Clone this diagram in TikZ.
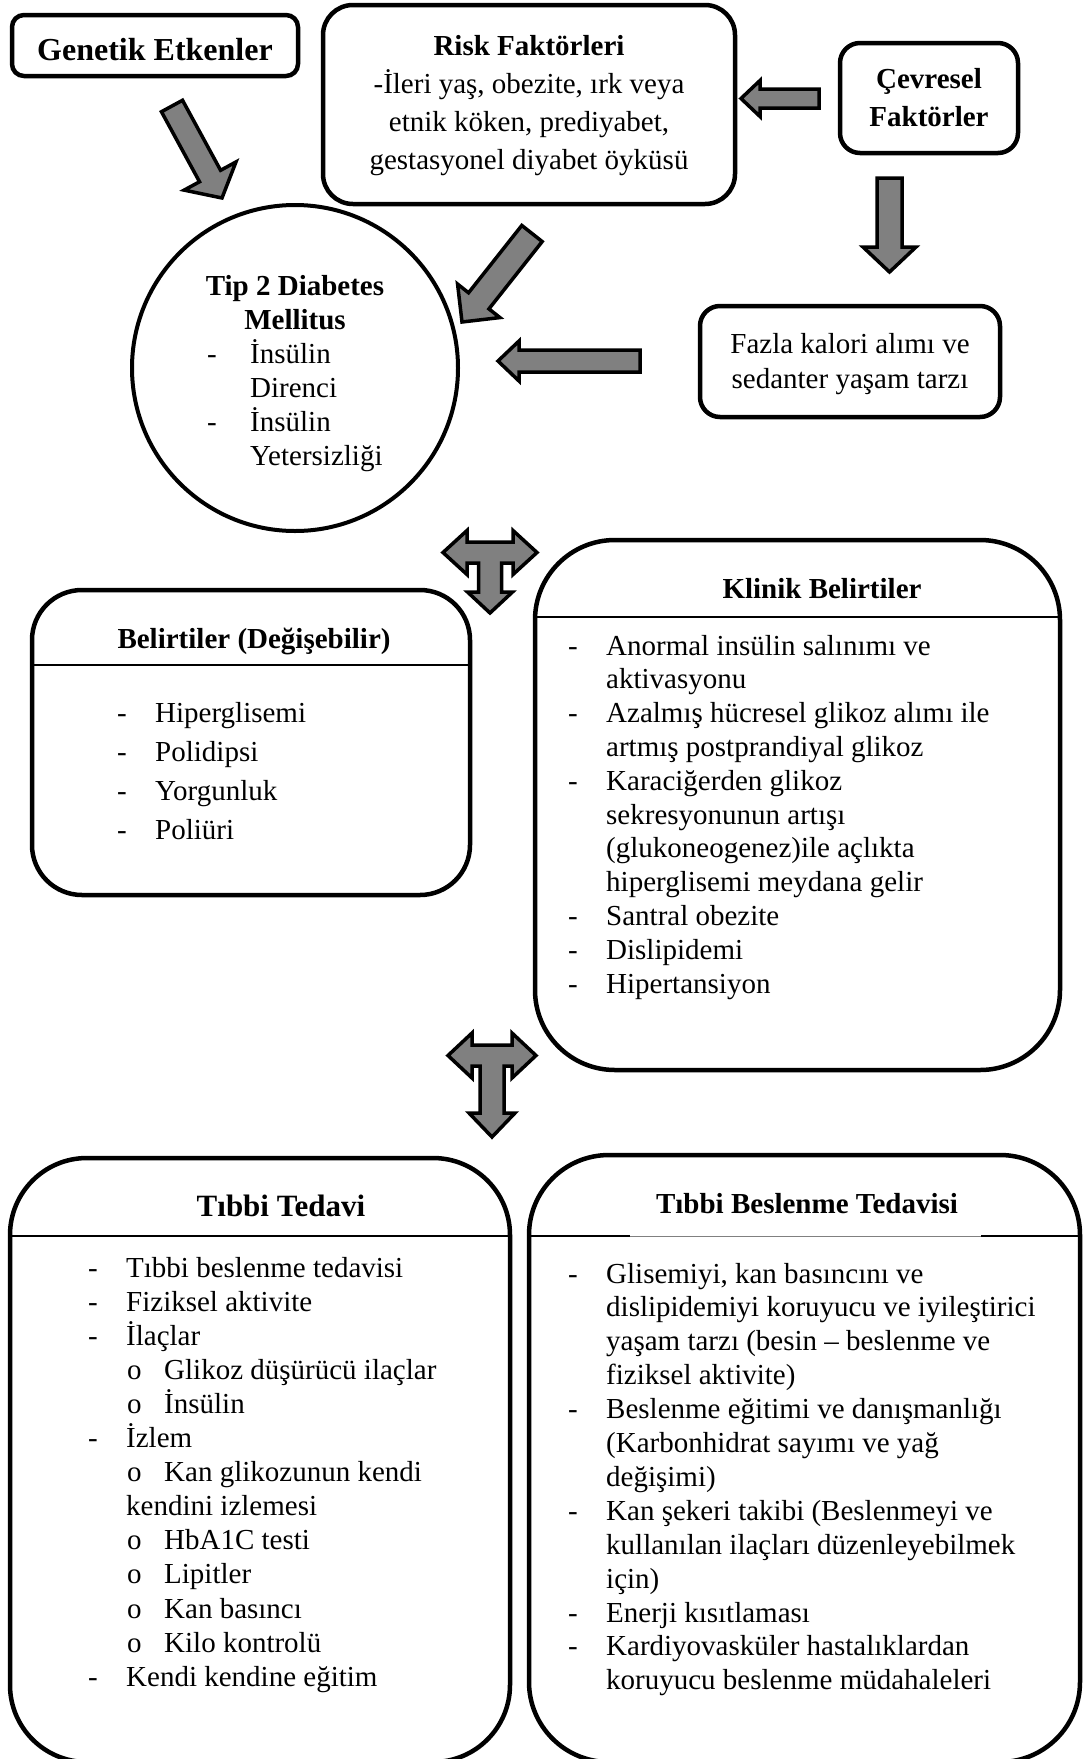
\documentclass[tikz,border=0pt]{standalone}
\usepackage{fontspec}
\setmainfont{Liberation Serif}
\usetikzlibrary{calc}
\definecolor{agray}{RGB}{128,128,128}
\newcommand{\fsBody}{\fontsize{29}{34}\selectfont}
\newcommand{\fsTitle}{\fontsize{29}{34}\selectfont\bfseries}
\newcommand{\blockarr}[5]{%
  \path ($(#2)!#5!(#1)$) coordinate (hb-#1);
  \draw[blk] ($(#1)!#3!90:(#2)$) -- ($(hb-#1)!#3!90:(#2)$) -- ($(hb-#1)!#4!90:(#2)$) -- (#2) -- ($(hb-#1)!#4!-90:(#2)$) -- ($(hb-#1)!#3!-90:(#2)$) -- ($(#1)!#3!-90:(#2)$) -- cycle;}
\begin{document}
\begin{tikzpicture}[x=1pt,y=-1pt,
  box/.style={draw, line width=4.5pt, inner sep=0pt},
  blk/.style={fill=agray, draw=black, line width=3.5pt, line join=miter},
  sep/.style={line width=2pt},
  txt/.style={anchor=base west, inner sep=0pt, font=\fsBody},
  ctr/.style={anchor=base, inner sep=0pt, font=\fsBody},
  ttl/.style={anchor=base, inner sep=0pt, font=\fsTitle}]
\useasboundingbox (0,0) rectangle (1083,1759);
\fill[white] (0,0) rectangle (1083,1759);

% ---------- top boxes ----------
\node[box, rounded corners=12pt, minimum width=286pt, minimum height=61pt] (gen) at (155,45.5) {};
\node[ttl, font=\fontsize{32}{38}\selectfont\bfseries] (gent) at (155,60) {Genetik Etkenler};

\node[box, rounded corners=30pt, minimum width=412pt, minimum height=199pt] (risk) at (529,104.5) {};
\node[ttl] (riskt) at (529,55) {Risk Faktörleri};
\node[ctr] (risk1) at (529,93) {-İleri yaş, obezite, ırk veya};
\node[ctr] (risk2) at (529,131) {etnik köken, prediyabet,};
\node[ctr] (risk3) at (529,169) {gestasyonel diyabet öyküsü};

\node[box, rounded corners=20pt, minimum width=178pt, minimum height=110pt] (cev) at (929,98) {};
\node[ttl] (cev1) at (929,88) {Çevresel};
\node[ttl] (cev2) at (929,126) {Faktörler};

\node[box, rounded corners=20pt, minimum width=300pt, minimum height=111pt] (faz) at (850,361.5) {};
\node[ctr] (faz1) at (850,353) {Fazla kalori alımı ve};
\node[ctr] (faz2) at (850,388) {sedanter yaşam tarzı};

% ---------- circle ----------
\node[box, circle, line width=4pt, minimum size=326pt] (dm) at (295,368) {};
\node[ttl] (dm1) at (295,295) {Tip 2 Diabetes};
\node[ttl] (dm2) at (295,329) {Mellitus};
\node[txt] (dmd1) at (207,363) {-};
\node[txt] (dm3) at (250,363) {İnsülin};
\node[txt] (dm4) at (250,397) {Direnci};
\node[txt] (dmd2) at (207,431) {-};
\node[txt] (dm5) at (250,431) {İnsülin};
\node[txt] (dm6) at (250,465) {Yetersizliği};

% ---------- block arrows ----------
\coordinate (ga1) at (172,106); \coordinate (ga2) at (222,198);
\blockarr{ga1}{ga2}{12pt}{29.5pt}{25pt}
\coordinate (ra1) at (532,233.5); \coordinate (ra2) at (462,322);
\blockarr{ra1}{ra2}{13pt}{27pt}{27pt}
\coordinate (ca1) at (819,98.5); \coordinate (ca2) at (741,98.5);
\blockarr{ca1}{ca2}{9.5pt}{18pt}{19pt}
\coordinate (da1) at (889.5,178); \coordinate (da2) at (889.5,272);
\blockarr{da1}{da2}{12.5pt}{26.5pt}{25pt}
\coordinate (fa1) at (640,361); \coordinate (fa2) at (498,361);
\blockarr{fa1}{fa2}{11pt}{20pt}{21pt}

% T arrow 1
\begin{scope}[shift={(490,552.5)}]
\draw[blk] (-47,0) -- (-23,-22) -- (-23,-10.5) -- (23,-10.5) -- (23,-22) -- (47,0) -- (23,22) -- (23,10.5) -- (11.5,10.5) -- (11.5,39.5) -- (22.5,39.5) -- (0,60.5) -- (-22.5,39.5) -- (-11.5,39.5) -- (-11.5,10.5) -- (-23,10.5) -- (-23,22) -- cycle;
\end{scope}
% T arrow 2
\begin{scope}[shift={(492,1055.5)}]
\draw[blk] (-44,0) -- (-20,-22.5) -- (-20,-10.5) -- (20,-10.5) -- (20,-22.5) -- (44,0) -- (20,22.5) -- (20,10.5) -- (12,10.5) -- (12,57.5) -- (23,57.5) -- (0,81.5) -- (-23,57.5) -- (-12,57.5) -- (-12,10.5) -- (-20,10.5) -- (-20,22.5) -- cycle;
\end{scope}

% ---------- Belirtiler ----------
\node[box, rounded corners=50pt, minimum width=438pt, minimum height=305pt] (bel) at (251,742.5) {};
\draw[sep] (32,665) -- (470,665);
\node[ttl] (belt) at (254,648) {Belirtiler (Değişebilir)};
\foreach \t [count=\i from 0] in {{Hiperglisemi}, {Polidipsi}, {Yorgunluk}, {Poliüri}} {
  \node[txt] (beli\i) at (155, 722+39.3*\i) {\t};
  \node[txt] (beld\i) at (117, 722+39.3*\i) {-};
}

% ---------- Klinik ----------
\node[box, rounded corners=80pt, minimum width=525pt, minimum height=530pt] (kli) at (797.5,805) {};
\draw[sep] (535,617) -- (1060,617);
\node[ttl] (klit) at (822,598) {Klinik Belirtiler};
\foreach \t [count=\i from 0] in {{Anormal insülin salınımı ve}, {aktivasyonu}, {Azalmış hücresel glikoz alımı ile}, {artmış postprandiyal glikoz}, {Karaciğerden glikoz}, {sekresyonunun artışı}, {(glukoneogenez)ile açlıkta}, {hiperglisemi meydana gelir}, {Santral obezite}, {Dislipidemi}, {Hipertansiyon}} {
  \node[txt] (kl\i) at (606, 655+33.8*\i) {\t};
}
\foreach \i in {0,2,4,8,9,10} {
  \node[txt] (kld\i) at (568, 655+33.8*\i) {-};
}

% ---------- Tibbi Tedavi ----------
\node[box, rounded corners=77pt, minimum width=500pt, minimum height=604pt] (tt) at (260,1460) {};
\draw[sep] (10,1236) -- (510,1236);
\node[ttl, font=\fontsize{31}{36}\selectfont\bfseries] (ttt) at (281,1216) {Tıbbi Tedavi};
\foreach \k/\t in {0/{Tıbbi beslenme tedavisi}, 1/{Fiziksel aktivite}, 2/{İlaçlar}, 5/{İzlem}, 7/{kendini izlemesi}, 12/{Kendi kendine eğitim}} {
  \node[txt] (tta\k) at (126, 1277+34.1*\k) {\t};
}
\foreach \k in {0,1,2,5,12} {
  \node[txt] (ttd\k) at (88, 1277+34.1*\k) {-};
}
\foreach \k/\t in {3/{Glikoz düşürücü ilaçlar}, 4/{İnsülin}, 6/{Kan glikozunun kendi}, 8/{HbA1C testi}, 9/{Lipitler}, 10/{Kan basıncı}, 11/{Kilo kontrolü}} {
  \node[txt] (ttb\k) at (164, 1277+34.1*\k) {\t};
  \node[txt] (tto\k) at (127, 1277+34.1*\k) {o};
}

% ---------- Tibbi Beslenme Tedavisi ----------
\node[box, rounded corners=80pt, minimum width=551pt, minimum height=607pt] (tb) at (804.5,1458.5) {};
\draw[sep] (529,1236) -- (630,1236);
\draw[line width=1pt, gray] (630,1236) -- (981,1236);
\draw[sep] (981,1236) -- (1080,1236);
\node[ttl] (tbt) at (807,1213) {Tıbbi Beslenme Tedavisi};
\foreach \t [count=\i from 0] in {{Glisemiyi, kan basıncını ve}, {dislipidemiyi koruyucu ve iyileştirici}, {yaşam tarzı (besin – beslenme ve}, {fiziksel aktivite)}, {Beslenme eğitimi ve danışmanlığı}, {(Karbonhidrat sayımı ve yağ}, {değişimi)}, {Kan şekeri takibi (Beslenmeyi ve}, {kullanılan ilaçları düzenleyebilmek}, {için)}, {Enerji kısıtlaması}, {Kardiyovasküler hastalıklardan}, {koruyucu beslenme müdahaleleri}} {
  \node[txt] (tb\i) at (606, 1283+33.9*\i) {\t};
}
\foreach \i in {0,4,7,10,11} {
  \node[txt] (tbd\i) at (568, 1283+33.9*\i) {-};
}
\end{tikzpicture}
\end{document}
